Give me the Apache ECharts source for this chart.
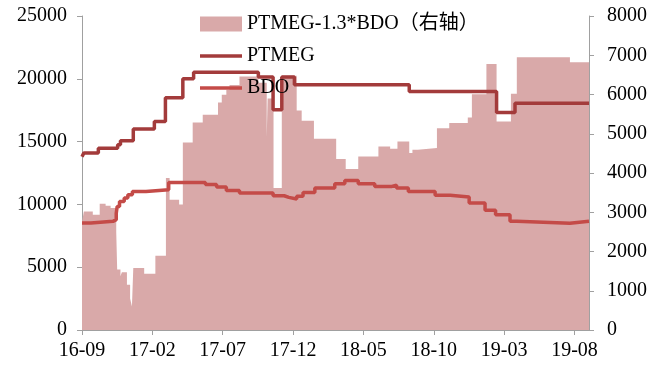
<!DOCTYPE html>
<html>
<head>
<meta charset="utf-8">
<script src="https://cdn.jsdelivr.net/npm/echarts@6/dist/echarts.min.js"></script>
<style>
html,body{margin:0;padding:0;background:#fff;}
#chart{width:662px;height:370px;}
</style>
</head>
<body>
<div id="chart"></div>
<script>
// ---- data ----
// PTMEG price (left axis), value holds from each date until the next one
const ptmegDates = ['2016-09-01','2016-09-05','2016-10-06','2016-11-17','2016-11-23','2016-12-21','2017-02-05','2017-02-27','2017-04-06','2017-04-29','2017-09-17','2017-10-19','2017-11-07','2017-12-04','2018-08-09','2019-02-14','2019-03-25','2019-09-02'];
const ptmegValues = [13800,14100,14480,14750,15070,16000,16600,18500,20000,20530,20150,17530,20150,19520,18990,17320,18060,18060];

// BDO price (left axis)
const bdoDates = ['2016-09-01','2016-09-20','2016-11-07','2016-11-14','2016-11-16','2016-11-21','2016-12-01','2016-12-09','2016-12-19','2017-01-18','2017-03-06','2017-05-25','2017-06-18','2017-07-09','2017-08-07','2017-10-19','2017-11-12','2017-11-22','2017-12-09','2017-12-23','2018-01-18','2018-02-28','2018-03-22','2018-04-20','2018-05-26','2018-07-02','2018-07-12','2018-08-07','2018-10-04','2018-11-06','2018-12-17','2019-01-21','2019-02-12','2019-03-14','2019-03-29','2019-07-22','2019-09-02'];
const bdoValues = [8520,8650,8785,9300,9840,10240,10510,10770,11030,11170,11750,11580,11380,11110,10900,10690,10560,10430,10640,10955,11300,11650,11910,11650,11430,11540,11300,11035,10720,10590,10110,9530,9180,8650,8500,8650,8650];

// PTMEG-1.3*BDO spread (right axis)
const spreadDates = ['2016-09-01','2016-09-05','2016-09-24','2016-10-09','2016-10-22','2016-11-02','2016-11-14','2016-11-16','2016-11-23','2016-11-26','2016-12-07','2016-12-14','2016-12-18','2016-12-21','2017-01-14','2017-02-07','2017-02-28','2017-03-08','2017-03-29','2017-04-06','2017-04-27','2017-05-19','2017-06-21','2017-06-29','2017-07-09','2017-07-16','2017-08-07','2017-09-17','2017-10-05','2017-10-07','2017-10-20','2017-11-07','2017-12-09','2017-12-20','2018-01-16','2018-03-03','2018-03-24','2018-04-20','2018-06-03','2018-06-28','2018-07-14','2018-08-09','2018-08-16','2018-08-28','2018-10-08','2018-11-04','2018-12-14','2018-12-23','2019-01-24','2019-02-14','2019-03-16','2019-03-29','2019-07-22','2019-09-02'];
const spreadValues = [2750,3020,2937,3217,3166,3107,2500,1540,1370,1470,1155,800,600,1580,1435,1893,3871,3318,3200,4780,5288,5482,5795,5991,6118,6245,6457,6300,4900,5900,3620,6480,5591,5329,4874,4354,4100,4421,4675,4617,4803,4507,4591,4634,5143,5271,5413,6008,6780,5313,6016,6950,6823,6823];

// axes
const xStart = '2016-09-01';
const xEnd = '2019-09-02';
const xTickMonths = 5;
const leftTicks = [0,5000,10000,15000,20000,25000];
const rightTicks = [0,1000,2000,3000,4000,5000,6000,7000,8000];

const seriesNames = ['PTMEG-1.3*BDO（右轴）','PTMEG','BDO'];

// ---- helpers ----
const startY = +xStart.slice(0,4), startM = +xStart.slice(5,7);
function toM(s){
  const p = s.split('-').map(Number);
  const dim = new Date(p[0], p[1], 0).getDate();
  return (p[0]-startY)*12 + (p[1]-startM) + (p[2]-1)/dim;
}
function pairs(dates, vals){ return dates.map((d,i)=>[toM(d), vals[i]]); }
function monthLabel(v){
  const r = Math.round(v);
  if (Math.abs(v-r) > 1e-6 || r % xTickMonths !== 0) return '';
  const total = startM - 1 + r;
  const y = startY + Math.floor(total/12);
  const m = total % 12 + 1;
  return String(y).slice(2) + '-' + (m<10?'0':'') + m;
}
const plain = v => String(v);

const FONT = '"Liberation Serif","Times New Roman","Noto Sans CJK SC",serif';
const axisGray = '#A0A0A0';
const cArea = '#D9A9A9', cPtmeg = '#A33B3B', cBdo = '#C44B48';
const lineIcon = 'path://M0,0H42V3.5H0Z';

const chart = echarts.init(document.getElementById('chart'), null, {renderer:'canvas'});
chart.setOption({
  animation: false,
  backgroundColor: '#fff',
  grid: {left: 82, right: 73, top: 16, bottom: 40, containLabel: false},
  legend: {
    orient: 'vertical', left: 195, top: 9, padding: 5,
    itemWidth: 42, itemHeight: 15, itemGap: 12,
    textStyle: {fontFamily: FONT, fontSize: 20, color: '#000'},
    data: [
      {name: seriesNames[0], icon: 'rect', itemStyle: {color: cArea}},
      {name: seriesNames[1], icon: lineIcon, itemStyle: {color: cPtmeg}},
      {name: seriesNames[2], icon: lineIcon, itemStyle: {color: cBdo}}
    ]
  },
  xAxis: {
    type: 'value', min: 0, max: toM(xEnd), interval: xTickMonths,
    splitLine: {show: false},
    axisLine: {show: true, lineStyle: {color: axisGray, width: 1}},
    axisTick: {show: true, length: 5, lineStyle: {color: axisGray}},
    axisLabel: {formatter: monthLabel, fontFamily: FONT, fontSize: 20, color: '#000', margin: 11, showMaxLabel: false}
  },
  yAxis: [
    {
      type: 'value', position: 'left', min: leftTicks[0], max: leftTicks[leftTicks.length-1],
      interval: leftTicks[1]-leftTicks[0],
      splitLine: {show: false},
      axisLine: {show: true, lineStyle: {color: axisGray, width: 1}},
      axisTick: {show: true, length: 5, lineStyle: {color: axisGray}},
      axisLabel: {formatter: plain, fontFamily: FONT, fontSize: 20, color: '#000', margin: 15}
    },
    {
      type: 'value', position: 'right', min: rightTicks[0], max: rightTicks[rightTicks.length-1],
      interval: rightTicks[1]-rightTicks[0],
      splitLine: {show: false},
      axisLine: {show: true, lineStyle: {color: axisGray, width: 1}},
      axisTick: {show: true, length: 5, lineStyle: {color: axisGray}},
      axisLabel: {formatter: plain, fontFamily: FONT, fontSize: 20, color: '#000', margin: 18}
    }
  ],
  series: [
    {
      name: seriesNames[0], type: 'line', yAxisIndex: 1, step: 'end',
      symbol: 'none', z: 1,
      itemStyle: {color: cArea},
      lineStyle: {width: 0, color: cArea},
      areaStyle: {color: cArea, opacity: 1},
      data: pairs(spreadDates, spreadValues)
    },
    {
      name: seriesNames[1], type: 'line', yAxisIndex: 0, step: 'end',
      symbol: 'none', z: 3,
      itemStyle: {color: cPtmeg},
      lineStyle: {width: 3.5, color: cPtmeg},
      data: pairs(ptmegDates, ptmegValues)
    },
    {
      name: seriesNames[2], type: 'line', yAxisIndex: 0, step: 'end',
      symbol: 'none', z: 3,
      itemStyle: {color: cBdo},
      lineStyle: {width: 3.5, color: cBdo},
      data: pairs(bdoDates, bdoValues)
    }
  ]
});
</script>
</body>
</html>
